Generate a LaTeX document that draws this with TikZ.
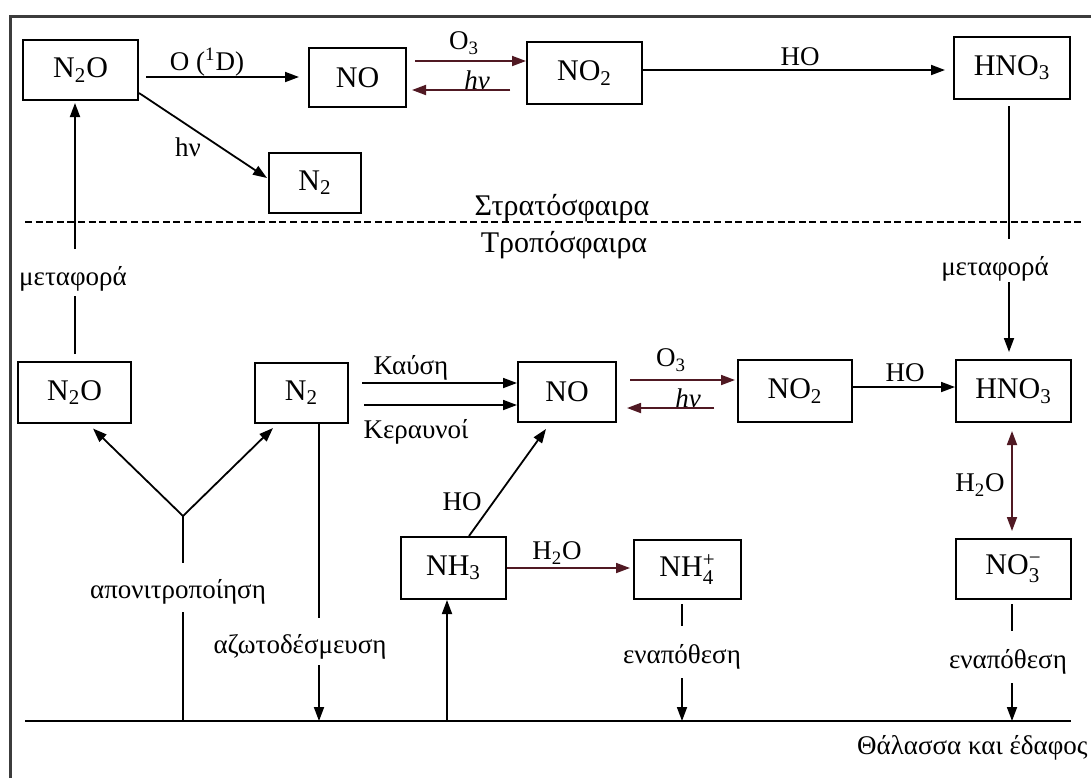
\documentclass[tikz,border=0pt]{standalone}
\usepackage{amsmath}
\usepackage{fontspec}
\setmainfont{Liberation Serif}
\usetikzlibrary{calc,arrows.meta}
\definecolor{framegray}{RGB}{60,60,60}
\definecolor{maroonink}{RGB}{80,25,35}
\newcommand\ionsub[2]{$_{\text{#1}}^{\text{#2}}$}
\tikzset{
  box/.style={draw=black, line width=1pt, inner sep=0pt, font=\fontsize{15}{18}\selectfont},
  lab/.style={inner sep=0pt, font=\fontsize{13.5}{16}\selectfont},
  biglab/.style={inner sep=0pt, font=\fontsize{15}{18}\selectfont},
  conn/.style={line width=0.9pt, draw=black},
  arr/.style={conn, -{Triangle[length=7pt,width=5pt]}},
  darr/.style={conn, {Triangle[length=7pt,width=5pt]}-{Triangle[length=7pt,width=5pt]}},
  rarr/.style={arr, draw=maroonink, fill=maroonink},
}
\begin{document}
\begin{tikzpicture}[x=0.5pt,y=-0.5pt]
\useasboundingbox (0,0) rectangle (1091,778);
% frame
\draw[framegray, line width=1.5pt] (10,778) -- (10,16) -- (1091,16);

% boxes
\node[box,minimum width=57.5pt,minimum height=30pt] (tN2O) at (80.5,70) {N\textsubscript{2}O};
\node[box,minimum width=48.5pt,minimum height=29.5pt] (tNO) at (357.5,77.5) {NO};
\node[box,minimum width=46pt,minimum height=30pt] (tN2) at (315,183) {N\textsubscript{2}};
\node[box,minimum width=57.5pt,minimum height=31pt] (tNO2) at (584.5,73) {NO\textsubscript{2}};
\node[box,minimum width=58pt,minimum height=31pt] (tHNO3) at (1012,68) {HNO\textsubscript{3}};
\node[box,minimum width=56.5pt,minimum height=30.5pt] (bN2O) at (74.5,392.5) {N\textsubscript{2}O};
\node[box,minimum width=46.5pt,minimum height=30pt] (bN2) at (301.5,393) {N\textsubscript{2}};
\node[box,minimum width=49pt,minimum height=30pt] (bNO) at (567,392) {NO};
\node[box,minimum width=57pt,minimum height=31pt] (bNO2) at (795,391) {NO\textsubscript{2}};
\node[box,minimum width=57.5pt,minimum height=31pt] (bHNO3) at (1013.5,391) {HNO\textsubscript{3}};
\node[box,minimum width=52.5pt,minimum height=31pt] (NH3) at (453.5,568) {NH\textsubscript{3}};
\node[box,minimum width=53.5pt,minimum height=29.5pt] (NH4) at (687.5,569.5) {NH\ionsub{4}{+}};
\node[box,minimum width=57.5pt,minimum height=30pt] (NO3) at (1013.5,569) {NO\ionsub{3}{−}};

% labels
\node[lab] (lO1D) at (207,62) {O (\textsuperscript{1}D)};
\node[lab] (lO3t) at (464,43) {O\textsubscript{3}};
\node[lab] (lhvt) at (477,80) {\itshape hν};
\node[lab] (lhvd) at (188,147) {hν};
\node[lab] (lHOt) at (800,57) {HO};
\node[lab] (lmetL) at (73,279) {μεταφορά};
\node[lab] (lmetR) at (995,269) {μεταφορά};
\node[biglab] (lstrat) at (562,208) {Στρατόσφαιρα};
\node[biglab] (ltrop) at (564,245) {Τροπόσφαιρα};
\node[lab] (lkaus) at (411,368) {Καύση};
\node[lab] (lker) at (416,432) {Κεραυνοί};
\node[lab] (lO3b) at (671,360) {O\textsubscript{3}};
\node[lab] (lhvb) at (688,398) {\itshape hν};
\node[lab] (lHOb) at (905,373) {HO};
\node[lab] (lHOd) at (462,502) {HO};
\node[lab] (lH2Oa) at (557,553) {H\textsubscript{2}O};
\node[lab] (lH2Ob) at (980,485) {H\textsubscript{2}O};
\node[lab] (lapon) at (178,592) {απονιτροποίηση};
\node[lab] (lazot) at (300,647) {αζωτοδέσμευση};
\node[lab] (lenap1) at (682,657) {εναπόθεση};
\node[lab] (lenap2) at (1008,662) {εναπόθεση};
\node[lab, anchor=east] (lsea) at (1088,748) {Θάλασσα και έδαφος};

% coordinates
\coordinate (J) at (183,516);
\coordinate (gL) at (25,721);
\coordinate (gR) at (1071,721);
\coordinate (g1) at (183,721);
\coordinate (g2) at (319,721);
\coordinate (g3) at (447,721);
\coordinate (g4) at (682,721);
\coordinate (g5) at (1012,721);
\coordinate (dL) at (25,222);
\coordinate (dR) at (1083,222);

% dashed boundary
\draw[line width=0.9pt, dash pattern=on 3.5pt off 1.8pt] (dL) -- (dR);
% ground
\draw[line width=0.9pt] (gL) -- (gR);

% stratosphere connectors
\draw[arr] ($(tN2O.east)+(7,7)$) -- ($(tNO.west)+(-9,-0.5)$);
\draw[rarr] ($(tNO.east)+(8,-16.5)$) -- ($(tNO2.west)+(0,-12)$);
\draw[rarr] ($(tNO2.west)+(-16,17)$) -- ($(tNO.east)+(5,12.5)$);
\draw[arr] ($(tN2O.south east)+(0,-8)$) -- ($(tN2.west)+(-1,-5)$);
\draw[arr] ($(tNO2.east)+(0,-3)$) -- ($(tHNO3.west)+(-8,2)$);
\draw[conn] ($(tHNO3.south)+(-3,6)$) -- ($(tHNO3.south)+(-3,139)$);
\draw[arr] ($(bHNO3.north)+(-4.5,-77)$) -- ($(bHNO3.north)+(-4.5,-7)$);
\draw[conn] ($(bN2O.north)+(0.5,-7)$) -- ($(bN2O.north)+(0.5,-65)$);
\draw[arr] ($(tN2O.south)+(-5.5,148)$) -- ($(tN2O.south)+(-5.5,2)$);

% troposphere connectors
\draw[arr] ($(bN2.east)+(13,-10)$) -- ($(bNO.west)+(0,-9)$);
\draw[arr] ($(bN2.east)+(15,12)$) -- ($(bNO.west)+(0,13)$);
\draw[rarr] ($(bNO.east)+(13,-12)$) -- ($(bNO2.west)+(-2,-11)$);
\draw[rarr] ($(bNO2.west)+(-23,17)$) -- ($(bNO.east)+(10,16)$);
\draw[arr] ($(bNO2.east)+(0,-4)$) -- ($(bHNO3.west)+(0,-4)$);
\draw[arr] (J) -- ($(bN2O.south)+(18.5,4.5)$);
\draw[arr] (J) -- ($(bN2.south)+(-28.5,4)$);
\draw[conn] (J) -- ($(J)+(0,47)$);
\draw[conn] ($(g1)+(0,-109)$) -- (g1);
\draw[conn] ($(bN2.south)+(17.5,0)$) -- ($(bN2.south)+(17.5,194)$);
\draw[arr] ($(g2)+(0,-56)$) -- (g2);
\draw[arr] (g3) -- ($(NH3.south)+(-6.5,0)$);
\draw[arr] ($(NH3.north)+(15.5,0)$) -- ($(bNO.south)+(-21,6)$);
\draw[rarr] (NH3.east) -- ($(NH4.west)+(-3,-1.5)$);
\draw[conn] ($(NH4.south)+(-5.5,4)$) -- ($(NH4.south)+(-5.5,26)$);
\draw[arr] ($(g4)+(0,-43)$) -- (g4);
\draw[darr, draw=maroonink, fill=maroonink] ($(bHNO3.south)+(-1.5,8)$) -- ($(NO3.north)+(-1.5,-7)$);
\draw[conn] ($(NO3.south)+(-1.5,4)$) -- ($(NO3.south)+(-1.5,31)$);
\draw[arr] ($(g5)+(0,-38)$) -- (g5);
\end{tikzpicture}
\end{document}
